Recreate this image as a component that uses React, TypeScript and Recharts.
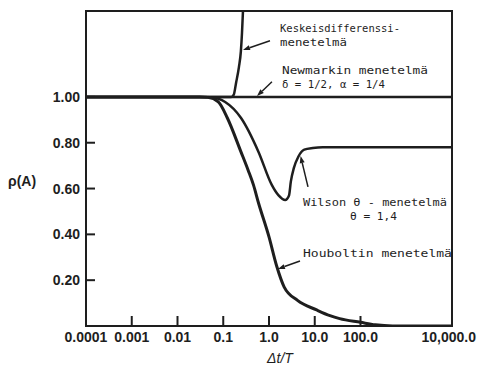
import React from 'react';
import { LineChart, Line, XAxis, YAxis, ReferenceLine, ReferenceDot, ReferenceArea, Label } from 'recharts';

// ---- data ----
const xTickValues = [0.0001, 0.001, 0.01, 0.1, 1, 10, 100, 10000];
const xTickLabels = ['0.0001', '0.001', '0.01', '0.1', '1.0', '10.0', '100.0', '10,000.0'];
const yTickValues = [0.2, 0.4, 0.6, 0.8, 1.0];
const yTickLabels = ['0.20', '0.40', '0.60', '0.80', '1.00'];

const newmarkX = [0.0001, 10000];
const newmarkRho = [1, 1];

const centralX = [0.0001, 0.12, 0.15, 0.17, 0.19, 0.22, 0.243, 0.257, 0.27];
const centralRho = [1, 1, 1.0, 1.01, 1.06, 1.13, 1.2, 1.28, 1.375];

const wilsonX = [0.0001, 0.03, 0.053, 0.11, 0.245, 0.59, 1.15, 1.62, 2.26, 2.74, 3.0, 3.5, 4.4, 5.9, 9.1, 15, 10000];
const wilsonRho = [1, 1, 0.998, 0.978, 0.908, 0.76, 0.616, 0.57, 0.55, 0.57, 0.63, 0.69, 0.74, 0.77, 0.777, 0.78, 0.78];

const houboltX = [0.0001, 0.03, 0.046, 0.078, 0.123, 0.244, 0.35, 0.457, 0.59, 1.0, 1.47, 2.15, 4.2, 11, 21.5, 35, 100, 210, 500, 10000];
const houboltRho = [1, 1, 0.998, 0.978, 0.908, 0.76, 0.68, 0.616, 0.537, 0.389, 0.262, 0.17, 0.112, 0.07, 0.045, 0.032, 0.016, 0.005, 0, 0];

const annotationTexts = [
  'Keskeisdifferenssi-',
  'menetelmä',
  'Newmarkin menetelmä',
  'δ = 1/2, α = 1/4',
  'Wilson θ - menetelmä',
  'θ = 1,4',
  'Houboltin menetelmä',
];
const annotationX = [1.74, 1.74, 1.92, 1.92, 5.53, 58.9, 5.53];
const annotationY = [1.284, 1.223, 1.1, 1.04, 0.524, 0.463, 0.301];

const arrowTailX = [1.05, 1.16, 7.12, 4.76];
const arrowTailY = [1.245, 1.066, 0.607, 0.284];
const arrowHeadX = [0.27, 0.547, 4.9, 1.57];
const arrowHeadY = [1.205, 1.004, 0.742, 0.249];

// ---- styling ----
const INK = '#1e1e1e';
const annotationWidths = [120, 67, 146, 103, 144, 47, 149];

const toData = (xs: number[], ys: number[]) => xs.map((x, i) => ({ x, rho: ys[i] }));

const XTick = (props: any) => {
  const { x, y, payload } = props;
  const i = xTickValues.indexOf(payload.value);
  const label = i >= 0 ? xTickLabels[i] : String(payload.value);
  const inner = payload.value > 0.0001 && payload.value < 10000;
  const last = payload.value >= 10000;
  return (
    <g>
      {inner && <line x1={x} y1={y} x2={x} y2={y - 10} stroke={INK} strokeWidth={2} />}
      <text x={last ? x + 24 : x} y={y + 16} textAnchor={last ? 'end' : 'middle'} fontSize={14} fontWeight="bold" fill={INK}
        fontFamily="Liberation Sans, Arial, sans-serif">{label}</text>
    </g>
  );
};

const YTick = (props: any) => {
  const { x, y, payload } = props;
  const i = yTickValues.indexOf(payload.value);
  const label = i >= 0 ? yTickLabels[i] : String(payload.value);
  return (
    <g>
      <line x1={x} y1={y} x2={x + 9} y2={y} stroke={INK} strokeWidth={2} />
      <text x={x - 6} y={y + 5} textAnchor="end" fontSize={14} fontWeight="bold" fill={INK}
        fontFamily="Liberation Sans, Arial, sans-serif">{label}</text>
    </g>
  );
};

const Arrow = (p: any) => {
  const { x1, y1, x2, y2 } = p;
  const dx = x2 - x1;
  const dy = y2 - y1;
  const len = Math.sqrt(dx * dx + dy * dy) || 1;
  const ux = dx / len;
  const uy = dy / len;
  const hl = 7;
  const hw = 2.5;
  const bx = x2 - ux * hl;
  const by = y2 - uy * hl;
  const pts = `${x2},${y2} ${bx - uy * hw},${by + ux * hw} ${bx + uy * hw},${by - ux * hw}`;
  return (
    <g>
      <line x1={x1} y1={y1} x2={bx} y2={by} stroke={INK} strokeWidth={1.5} />
      <polygon points={pts} fill={INK} />
    </g>
  );
};

const makeText = (idx: number) => (p: any) => (
  <text x={p.cx} y={p.cy} fontSize={11} fill={INK} textLength={annotationWidths[idx]}
    lengthAdjust="spacingAndGlyphs" fontFamily="DejaVu Sans Mono, monospace">
    {annotationTexts[idx]}
  </text>
);

export default function App() {
  return (
    <div style={{ position: 'absolute', left: 0, top: 0, background: '#fff' }}>
      <LineChart width={477} height={369} margin={{ top: 11, right: 25, bottom: 0, left: 26 }}>
        <XAxis
          dataKey="x"
          type="number"
          scale="log"
          domain={[0.0001, 10000]}
          ticks={xTickValues}
          interval={0}
          allowDataOverflow
          height={43}
          tickSize={0}
          tickMargin={0}
          tickLine={false}
          axisLine={{ stroke: INK, strokeWidth: 2 }}
          tick={<XTick />}
        >
          <Label
            content={(props: any) => {
              const vb = props.viewBox || { x: 86, y: 326, width: 366 };
              return (
                <text x={vb.x + vb.width * 0.53} y={vb.y + 37} textAnchor="middle" fontSize={14}
                  fontStyle="italic" fill={INK} fontFamily="Liberation Sans, Arial, sans-serif">Δt/T</text>
              );
            }}
          />
        </XAxis>
        <YAxis
          type="number"
          domain={[0, 1.375]}
          ticks={yTickValues}
          interval={0}
          allowDataOverflow
          width={60}
          tickSize={0}
          tickMargin={0}
          tickLine={false}
          axisLine={{ stroke: INK, strokeWidth: 2 }}
          tick={<YTick />}
        >
          <Label
            content={(props: any) => {
              const vb = props.viewBox || { x: 26, y: 11, width: 60, height: 315 };
              return (
                <text x={vb.x - 18} y={vb.y + vb.height / 2 + 17} fontSize={14} fontWeight="bold"
                  fill={INK} fontFamily="Liberation Sans, Arial, sans-serif">ρ(A)</text>
              );
            }}
          />
        </YAxis>
        <ReferenceArea x1={0.0001} x2={10000} y1={0} y2={1.375} fill="none" stroke={INK} strokeWidth={2} ifOverflow="visible" />
        <Line data={toData(newmarkX, newmarkRho)} dataKey="rho" type="monotone" stroke={INK} strokeWidth={2.5} dot={false} isAnimationActive={false} />
        <Line data={toData(centralX, centralRho)} dataKey="rho" type="monotone" stroke={INK} strokeWidth={2.5} dot={false} isAnimationActive={false} />
        <Line data={toData(wilsonX, wilsonRho)} dataKey="rho" type="monotone" stroke={INK} strokeWidth={2.5} dot={false} isAnimationActive={false} />
        <Line data={toData(houboltX, houboltRho)} dataKey="rho" type="monotone" stroke={INK} strokeWidth={3} dot={false} isAnimationActive={false} />
        {arrowTailX.map((tx, i) => (
          <ReferenceLine
            key={`arrow-${i}`}
            segment={[{ x: tx, y: arrowTailY[i] }, { x: arrowHeadX[i], y: arrowHeadY[i] }]}
            shape={Arrow}
            ifOverflow="visible"
          />
        ))}
        {annotationTexts.map((t, i) => (
          <ReferenceDot key={`txt-${i}`} x={annotationX[i]} y={annotationY[i]} r={0} shape={makeText(i)} ifOverflow="visible" />
        ))}
      </LineChart>
    </div>
  );
}
